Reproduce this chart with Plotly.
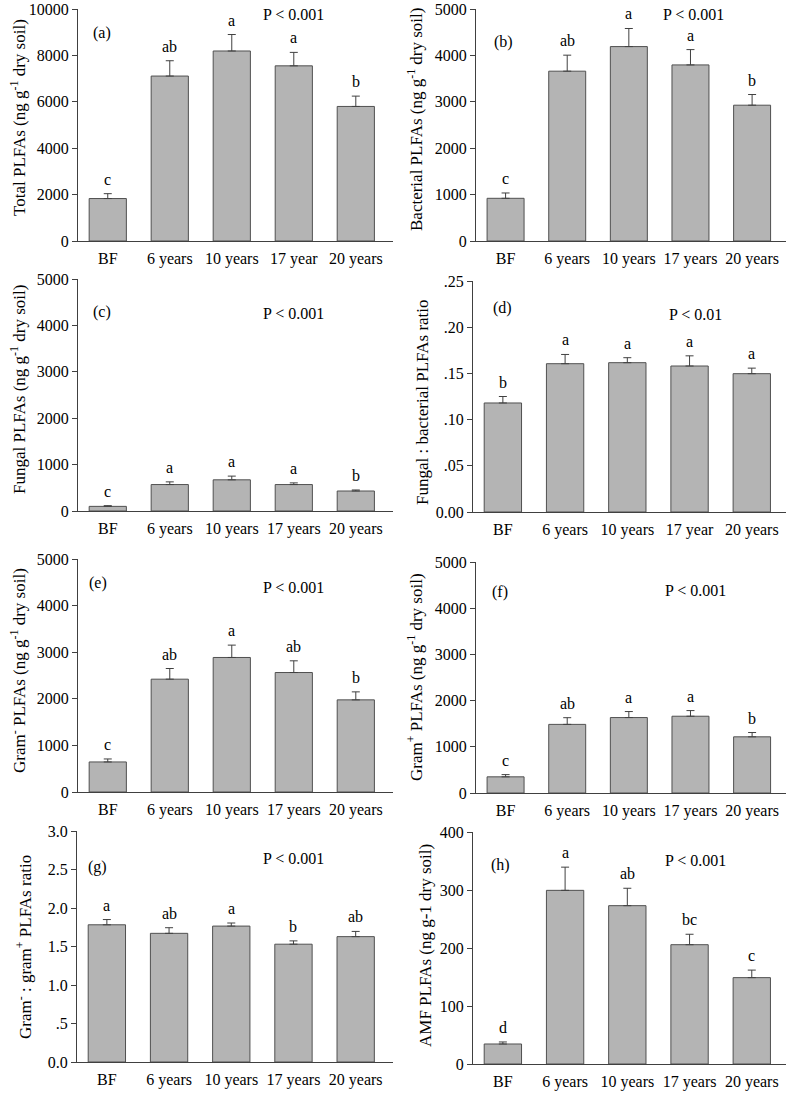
import plotly.graph_objects as go

W, H = 787, 1094
FONT = "Liberation Serif"

cats_a = ["BF", "6 years", "10 years", "17 year", "20 years"]
cats_std = ["BF", "6 years", "10 years", "17 years", "20 years"]

# (a) Total PLFAs
total_mean = [1830, 7110, 8190, 7550, 5800]
total_err = [210, 660, 710, 580, 445]
total_sig = ["c", "ab", "a", "a", "b"]
# (b) Bacterial PLFAs
bact_mean = [920, 3660, 4190, 3795, 2927]
bact_err = [115, 345, 390, 330, 230]
bact_sig = ["c", "ab", "a", "a", "b"]
# (c) Fungal PLFAs
fung_mean = [100, 570, 672, 570, 431]
fung_err = [15, 58, 80, 36, 22]
fung_sig = ["c", "a", "a", "a", "b"]
# (d) Fungal : bacterial ratio
fb_mean = [0.118, 0.1605, 0.1616, 0.158, 0.1497]
fb_err = [0.007, 0.010, 0.0054, 0.011, 0.006]
fb_sig = ["b", "a", "a", "a", "a"]
# (e) Gram- PLFAs
gneg_mean = [645, 2421, 2887, 2564, 1977]
gneg_err = [64, 229, 265, 251, 172]
gneg_sig = ["c", "ab", "a", "ab", "b"]
# (f) Gram+ PLFAs
gpos_mean = [350, 1485, 1633, 1662, 1216]
gpos_err = [48, 145, 130, 122, 93]
gpos_sig = ["c", "ab", "a", "a", "b"]
# (g) Gram- : gram+ ratio
gr_mean = [1.782, 1.671, 1.765, 1.530, 1.628]
gr_err = [0.068, 0.073, 0.040, 0.043, 0.068]
gr_sig = ["a", "ab", "a", "b", "ab"]
# (h) AMF PLFAs
amf_mean = [34.5, 299.4, 273, 205.7, 148.9]
amf_err = [3.5, 40, 30, 18, 13]
amf_sig = ["d", "a", "ab", "bc", "c"]

ticks_10k = [0, 2000, 4000, 6000, 8000, 10000]
ticks_5k = [0, 1000, 2000, 3000, 4000, 5000]

panels = [
    dict(cats=cats_a, mean=total_mean, err=total_err, sig=total_sig, letter="(a)", p="P < 0.001",
         title="Total PLFAs (ng g<sup>-1</sup> dry soil)",
         ytv=ticks_10k, ytt=[str(v) for v in ticks_10k], ymax=10000,
         px=(78, 393), py=(9, 241), xr=[-0.48, 4.6],
         lpos=(102, 33), ppos=(293, 15), tpos=(18, 118)),
    dict(cats=cats_std, mean=bact_mean, err=bact_err, sig=bact_sig, letter="(b)", p="P < 0.001",
         title="Bacterial PLFAs (ng g<sup>-1</sup> dry soil)",
         ytv=ticks_5k, ytt=[str(v) for v in ticks_5k], ymax=5000,
         px=(476, 786), py=(9, 241), xr=[-0.48, 4.55],
         lpos=(503, 42), ppos=(693, 15), tpos=(415, 120)),
    dict(cats=cats_std, mean=fung_mean, err=fung_err, sig=fung_sig, letter="(c)", p="P < 0.001",
         title="Fungal PLFAs (ng g<sup>-1</sup> dry soil)",
         ytv=ticks_5k, ytt=[str(v) for v in ticks_5k], ymax=5000,
         px=(78, 393), py=(279, 511), xr=[-0.48, 4.6],
         lpos=(102, 312), ppos=(293, 313), tpos=(18, 390)),
    dict(cats=cats_a, mean=fb_mean, err=fb_err, sig=fb_sig, letter="(d)", p="P < 0.01",
         title="Fungal : bacterial PLFAs ratio",
         ytv=[0, 0.05, 0.10, 0.15, 0.20, 0.25], ytt=["0.00", ".05", ".10", ".15", ".20", ".25"], ymax=0.25,
         px=(473, 786), py=(281, 512), xr=[-0.48, 4.55],
         lpos=(502, 308), ppos=(695, 315), tpos=(422, 402)),
    dict(cats=cats_std, mean=gneg_mean, err=gneg_err, sig=gneg_sig, letter="(e)", p="P < 0.001",
         title="Gram<sup>-</sup> PLFAs (ng g<sup>-1</sup> dry soil)",
         ytv=ticks_5k, ytt=[str(v) for v in ticks_5k], ymax=5000,
         px=(78, 393), py=(559, 792), xr=[-0.48, 4.6],
         lpos=(98, 583), ppos=(293, 587), tpos=(18, 671)),
    dict(cats=cats_std, mean=gpos_mean, err=gpos_err, sig=gpos_sig, letter="(f)", p="P < 0.001",
         title="Gram<sup>+</sup> PLFAs (ng g<sup>-1</sup> dry soil)",
         ytv=ticks_5k, ytt=[str(v) for v in ticks_5k], ymax=5000,
         px=(476, 786), py=(562, 793), xr=[-0.48, 4.55],
         lpos=(500, 592), ppos=(695, 590), tpos=(415, 677)),
    dict(cats=cats_std, mean=gr_mean, err=gr_err, sig=gr_sig, letter="(g)", p="P < 0.001",
         title="Gram<sup>-</sup> : gram<sup>+</sup> PLFAs ratio",
         ytv=[0, 0.5, 1.0, 1.5, 2.0, 2.5, 3.0], ytt=["0.0", ".5", "1.0", "1.5", "2.0", "2.5", "3.0"], ymax=3.0,
         px=(77, 393), py=(831, 1062), xr=[-0.48, 4.6],
         lpos=(97, 867), ppos=(293, 858), tpos=(24, 947)),
    dict(cats=cats_std, mean=amf_mean, err=amf_err, sig=amf_sig, letter="(h)", p="P < 0.001",
         title="AMF PLFAs (ng g-1 dry soil)",
         ytv=[0, 100, 200, 300, 400], ytt=["0", "100", "200", "300", "400"], ymax=400,
         px=(473, 786), py=(832, 1064), xr=[-0.48, 4.55],
         lpos=(500, 865), ppos=(695, 860), tpos=(425, 946)),
]

fig = go.Figure()
layout = {}
annotations = []
tf = dict(family=FONT, size=16, color="black")
titlef = dict(family=FONT, size=17, color="black")

for i, pn in enumerate(panels):
    k = "" if i == 0 else str(i + 1)
    xa, ya = "x" + k, "y" + k
    xr_ = list(range(5))
    fig.add_trace(go.Bar(
        x=xr_, y=pn["mean"], xaxis=xa, yaxis=ya, width=0.6,
        marker=dict(color="#b4b4b4", line=dict(color="#505050", width=1)),
        error_y=dict(type="data", symmetric=False, array=pn["err"], arrayminus=[0] * 5,
                     color="#404040", thickness=1, width=4),
        showlegend=False, hoverinfo="skip"))
    layout["xaxis" + k] = dict(
        domain=[pn["px"][0] / W, pn["px"][1] / W], anchor=ya, range=pn["xr"],
        tickmode="array", tickvals=xr_, ticktext=pn["cats"], ticks="",
        ticklabelstandoff=3,
        showline=True, linecolor="#404040", linewidth=1, showgrid=False, zeroline=False,
        tickfont=tf, fixedrange=True, automargin=False)
    layout["yaxis" + k] = dict(
        domain=[1 - pn["py"][1] / H, 1 - pn["py"][0] / H], anchor=xa, range=[0, pn["ymax"]],
        tickmode="array", tickvals=pn["ytv"], ticktext=pn["ytt"],
        ticks="outside", ticklen=5, tickcolor="#404040",
        showline=True, linecolor="#404040", linewidth=1, showgrid=False, zeroline=False,
        tickfont=tf, fixedrange=True, automargin=False)
    for j in range(5):
        annotations.append(dict(x=j, y=pn["mean"][j] + pn["err"][j], xref=xa, yref=ya,
                                text=pn["sig"][j], showarrow=False, yanchor="bottom",
                                yshift=4, font=tf))
    annotations.append(dict(x=pn["lpos"][0] / W, y=1 - pn["lpos"][1] / H, xref="paper", yref="paper",
                            text=pn["letter"], showarrow=False, xanchor="center", yanchor="middle", font=tf))
    annotations.append(dict(x=pn["ppos"][0] / W, y=1 - pn["ppos"][1] / H, xref="paper", yref="paper",
                            text=pn["p"], showarrow=False, xanchor="center", yanchor="middle", font=tf))
    annotations.append(dict(x=pn["tpos"][0] / W, y=1 - pn["tpos"][1] / H, xref="paper", yref="paper",
                            text=pn["title"], showarrow=False, textangle=-90,
                            xanchor="center", yanchor="middle", font=titlef))

fig.update_layout(
    width=W, height=H, margin=dict(l=0, r=0, t=0, b=0, autoexpand=False),
    paper_bgcolor="white", plot_bgcolor="white",
    annotations=annotations, **layout)

fig.write_html(
    "out.html",
    config={"displayModeBar": False},
    post_script="document.body.style.margin='0';document.body.style.overflow='hidden';",
)
